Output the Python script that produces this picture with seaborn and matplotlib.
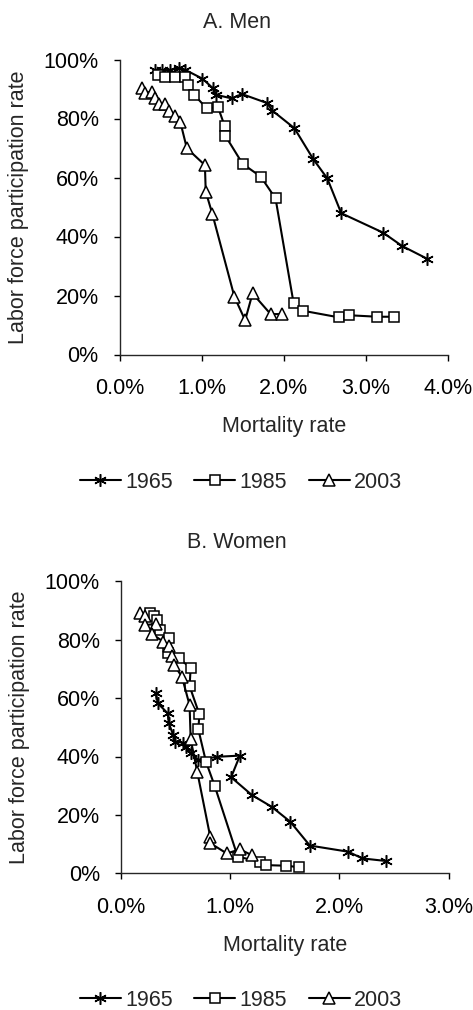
import matplotlib
matplotlib.use("Agg")
import matplotlib.pyplot as plt
import seaborn as sns
import pandas as pd
from matplotlib.ticker import PercentFormatter

# -----------------------------
# Data (mortality rate %, labor force participation %)
# -----------------------------
years = ["1965", "1985", "2003"]

men_1965_mort = [0.43, 0.52, 0.62, 0.72, 0.80, 1.01, 1.14, 1.18, 1.37, 1.49, 1.80, 1.86, 2.13, 2.36, 2.53, 2.70, 3.21, 3.44, 3.75]
men_1965_lfp = [96.5, 96.3, 96.5, 97.0, 96.5, 93.5, 90.2, 88.0, 86.8, 88.3, 85.2, 82.7, 76.7, 66.2, 59.7, 47.9, 41.3, 36.8, 32.4]

men_1985_mort = [0.47, 0.55, 0.68, 0.80, 0.84, 0.91, 1.06, 1.20, 1.28, 1.29, 1.50, 1.72, 1.90, 2.12, 2.24, 2.67, 2.80, 3.14, 3.34]
men_1985_lfp = [94.7, 94.2, 94.2, 94.2, 91.4, 88.0, 83.5, 83.8, 77.5, 74.1, 64.6, 60.3, 52.9, 17.4, 14.8, 12.6, 13.3, 12.8, 12.8]

men_2003_mort = [0.28, 0.31, 0.39, 0.43, 0.48, 0.55, 0.60, 0.67, 0.74, 0.82, 1.04, 1.05, 1.13, 1.40, 1.53, 1.62, 1.84, 1.98]
men_2003_lfp = [90.2, 88.8, 89.0, 86.8, 84.9, 85.0, 82.7, 80.9, 78.9, 69.9, 64.2, 55.2, 47.7, 19.5, 11.6, 20.7, 13.7, 13.7]

women_1965_mort = [0.32, 0.34, 0.43, 0.44, 0.48, 0.50, 0.57, 0.60, 0.64, 0.71, 0.88, 1.09, 1.01, 1.20, 1.38, 1.55, 1.73, 2.08, 2.21, 2.43]
women_1965_lfp = [61.6, 58.2, 54.8, 51.4, 47.4, 45.1, 44.7, 43.4, 41.1, 38.8, 39.9, 40.3, 32.9, 26.8, 22.8, 17.7, 9.5, 7.4, 5.1, 4.2]

women_1985_mort = [0.27, 0.30, 0.33, 0.36, 0.44, 0.43, 0.53, 0.64, 0.63, 0.72, 0.71, 0.78, 0.86, 1.07, 1.27, 1.33, 1.51, 1.63]
women_1985_lfp = [89.2, 88.1, 86.7, 83.3, 80.5, 75.3, 73.6, 70.4, 64.1, 54.4, 49.3, 38.2, 29.9, 5.7, 4.0, 2.8, 2.6, 2.1]

women_2003_mort = [0.18, 0.22, 0.22, 0.32, 0.29, 0.39, 0.44, 0.47, 0.49, 0.56, 0.63, 0.64, 0.70, 0.82, 0.82, 0.97, 1.09, 1.20]
women_2003_lfp = [89.2, 88.1, 85.0, 85.4, 81.9, 79.3, 77.8, 74.4, 71.3, 67.3, 57.6, 45.9, 34.8, 12.3, 10.3, 6.8, 8.2, 6.2]

men = {"1965": (men_1965_mort, men_1965_lfp),
       "1985": (men_1985_mort, men_1985_lfp),
       "2003": (men_2003_mort, men_2003_lfp)}
women = {"1965": (women_1965_mort, women_1965_lfp),
         "1985": (women_1985_mort, women_1985_lfp),
         "2003": (women_2003_mort, women_2003_lfp)}

# -----------------------------
# Style
# -----------------------------
sns.set_style("ticks")
plt.rcParams["font.family"] = ["Liberation Sans", "DejaVu Sans"]
plt.rcParams["font.size"] = 15.5
plt.rcParams["axes.linewidth"] = 1.0
plt.rcParams["xtick.major.width"] = 1.0
plt.rcParams["ytick.major.width"] = 1.0
plt.rcParams["xtick.major.size"] = 4
plt.rcParams["ytick.major.size"] = 4

markers = {"1965": (6, 2, 0), "1985": "s", "2003": "^"}
msize = {"1965": 9, "1985": 7.5, "2003": 8}

fig = plt.figure(figsize=(4.73, 10.10), dpi=100)
W, H = 473, 1010


def panel(rect_px, series, xmax, title, title_y, legend_y):
    left, top, right, bottom = rect_px
    ax = fig.add_axes([left / W, 1 - bottom / H, (right - left) / W, (bottom - top) / H])
    for yr in years:
        mort, lfp = series[yr]
        df = pd.DataFrame({"mort": mort, "lfp": lfp})
        sns.lineplot(data=df, x="mort", y="lfp", ax=ax, sort=False, estimator=None,
                     color="black", linewidth=1.5, marker=markers[yr],
                     markersize=msize[yr], markerfacecolor="white",
                     markeredgecolor="black", markeredgewidth=1.1, label=yr)
    ax.set_xlim(0, xmax)
    ax.set_ylim(0, 100)
    ax.set_xticks([i for i in range(int(xmax) + 1)])
    ax.set_yticks([0, 20, 40, 60, 80, 100])
    ax.xaxis.set_major_formatter(PercentFormatter(xmax=100, decimals=1))
    ax.yaxis.set_major_formatter(PercentFormatter(xmax=100, decimals=0))
    ax.tick_params(axis="x", direction="out", pad=13, labelsize=15.5, colors="black")
    ax.tick_params(axis="y", direction="out", pad=11, labelsize=15.5, colors="black")
    sns.despine(ax=ax)
    ax.set_xlabel("Mortality rate", fontsize=15.5)
    ax.set_ylabel("Labor force participation rate", fontsize=15.5)
    ax.xaxis.set_label_coords(0.5, -72 / (bottom - top))
    ax.xaxis.label.set_va("center")
    ax.yaxis.set_label_coords((19 - left) / (right - left), 0.5)
    ax.yaxis.label.set_va("center")
    fig.text(0.5, 1 - title_y / H, title, ha="center", va="center", fontsize=15.5)
    handles, labels = ax.get_legend_handles_labels()
    ax.get_legend().remove()
    fig.legend(handles, labels, loc="center", bbox_to_anchor=(241 / W, 1 - legend_y / H),
               ncol=3, frameon=False, fontsize=15.5, handlelength=1.9,
               handletextpad=0.2, columnspacing=1.0, borderaxespad=0)
    return ax


panel((119.5, 59.5, 448, 354.5), men, 4, "A. Men", 22, 482)
panel((120.7, 581.3, 448.7, 873.3), women, 3, "B. Women", 542, 1000)

fig.savefig("out.png", dpi=100)
